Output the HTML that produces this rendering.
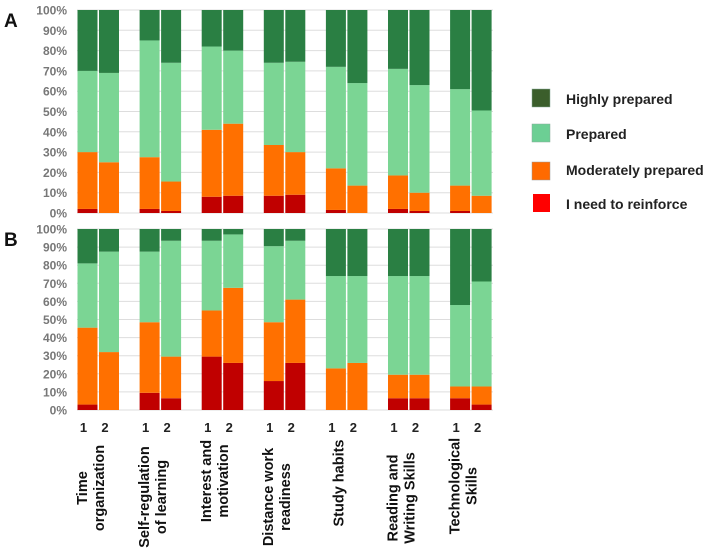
<!DOCTYPE html>
<html><head><meta charset="utf-8"><style>
body{margin:0;background:#fff;}
svg{display:block;font-family:"Liberation Sans",Arial,sans-serif;}
</style></head><body>
<svg id="chart" width="724" height="551" viewBox="0 0 724 551">
<text x="4" y="27" font-size="19" font-weight="bold" fill="#111">A</text>
<text x="4" y="246" font-size="19" font-weight="bold" fill="#111">B</text>
<g>
 <g><rect x="532" y="89" width="18" height="18" fill="#3b5e2b" stroke="#8a9" stroke-width="0.5"/><text x="566" y="104" font-size="14" font-weight="bold" fill="#222">Highly prepared</text></g>
 <g><rect x="532" y="124" width="18" height="18" fill="#6ccf94" stroke="#8a9" stroke-width="0.5"/><text x="566" y="139" font-size="14" font-weight="bold" fill="#222">Prepared</text></g>
 <g><rect x="532" y="162" width="18" height="18" fill="#ff6a00" stroke="#999" stroke-width="0.5"/><text x="566" y="175" font-size="14" font-weight="bold" fill="#222">Moderately prepared</text></g>
 <g><rect x="533" y="194" width="17" height="18" fill="#ff0000"/><text x="566" y="209" font-size="14" font-weight="bold" fill="#222">I need to reinforce</text></g>
</g>
<g id="plots"></g>
</svg>
<script>
const categories=[["Time","organization"],["Self-regulation","of learning"],["Interest and","motivation"],["Distance work","readiness"],["Study habits"],["Reading and","Writing  Skills"],["Technological","Skills"]];
const groupLabels=["1","2"];
const yTicks=[0,10,20,30,40,50,60,70,80,90,100];
// Panel A, percentages per bar (14 bars: category x {1,2})
const aReinforce=[2,0,2,1,8,8.5,8.5,9,1.5,0,2,1,1,0];
const aModerate=[28,25,25.5,14.5,33,35.5,25,21,20.5,13.5,16.5,9,12.5,8.5];
const aPrepared=[40,44,57.5,58.5,41,36,40.5,44.5,50,50.5,52.5,53,47.5,42];
const aHighly=[30,31,15,26,18,20,26,25.5,28,36,29,37,39,49.5];
// Panel B
const bReinforce=[3,0,9.5,6.5,29.5,26,16,26,0,0,6.5,6.5,6.5,3];
const bModerate=[42.5,32,39,23,25.5,41.5,32.5,35,23,26,13,13,6.5,10];
const bPrepared=[35.5,55.5,39,64,38.5,29.5,42,32.5,51,48,54.5,54.5,45,58];
const bHighly=[19,12.5,12.5,6.5,6.5,3,9.5,6.5,26,26,26,26,42,29];
const colors=["#c00000","#ff7000","#7bd594","#2a7f43"];
const segNames=["reinforce","moderate","prepared","highly"];
const NS="http://www.w3.org/2000/svg";
const root=document.getElementById('plots');
function mk(t,a,p){const e=document.createElementNS(NS,t);for(const k in a)e.setAttribute(k,a[k]);(p||root).appendChild(e);return e;}
const barW=20, pairGap=1.5, groupStep=62.1, x0=77.5;
function xBar(i){const g=Math.floor(i/2),b=i%2;return x0+g*groupStep+b*(barW+pairGap);}
function drawPanel(name,top,bottom,series){
 const y=v=>bottom-(bottom-top)*v/100;
 const g=mk('g',{});
 
 
 yTicks.forEach(t=>{
  const l=mk('line',{x1:77,x2:493,y1:y(t),y2:y(t),stroke:'#ddd','stroke-width':1},g);
  
  
  const tx=mk('text',{x:67,y:y(t)+4.5,'text-anchor':'end','font-size':12,'font-weight':'bold',fill:'#777'},g);
  tx.textContent=t+'%';
  
  
 });
 for(let i=0;i<14;i++){
  let acc=0;
  series.forEach((s,k)=>{
   const v=s[i]; if(v<=0){return;}
   const r=mk('rect',{x:xBar(i),width:barW,y:y(acc+v),height:y(acc)-y(acc+v),fill:colors[k]},g);
   
   
   acc+=v;
  });
 }
}
drawPanel('panel-a',10,213,[aReinforce,aModerate,aPrepared,aHighly]);
drawPanel('panel-b',229,410,[bReinforce,bModerate,bPrepared,bHighly]);
for(let i=0;i<14;i++){
 const t=mk('text',{x:xBar(i)+barW/2-4,y:432,'text-anchor':'middle','font-size':13,'font-weight':'bold',fill:'#222'});
 t.textContent=groupLabels[i%2];
 
 
}
const labelCY=[488,497,481,497,483,498,486];
categories.forEach((lines,g)=>{
 const cx=x0+g*groupStep+barW+0.75;
 const n=lines.length;
 lines.forEach((ln,j)=>{
  const lx=cx+(j-(n-1)/2)*17-3;
  const t=mk('text',{x:lx,y:labelCY[g],'text-anchor':'middle','font-size':14.5,'font-weight':'bold',fill:'#111',transform:`rotate(-90 ${lx} ${labelCY[g]})`,'xml:space':'preserve'});
  t.textContent=ln;
  
  
 });
});
</script>
</body></html>
